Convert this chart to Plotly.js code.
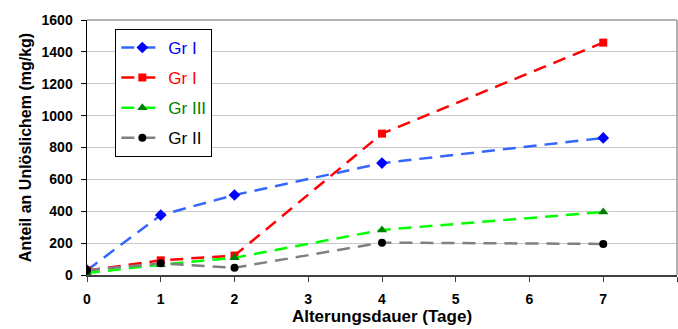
<!DOCTYPE html>
<html><head><meta charset="utf-8">
<script src="https://cdn.plot.ly/plotly-3.0.1.min.js"></script>
<style>html,body{margin:0;padding:0;background:#fff}#c{width:678px;height:329px}</style>
</head><body><div id="c"></div>
<script>
const days = [0, 1, 2, 4, 7];
const grIblue = [30, 376, 502, 702, 860];
const grIred = [28, 92, 122, 887, 1458];
const grIII = [12, 65, 108, 283, 395];
const grII = [30, 73, 46, 203, 195];
const names = ['Gr I', 'Gr I', 'Gr III', 'Gr II'];
const xTicks = [0,1,2,3,4,5,6,7,8];
const yTicks = [0,200,400,600,800,1000,1200,1400,1600];

const F = 'Liberation Sans, Arial, sans-serif';
const dash = '13px,8px';
function tr(y, name, lineColor, markColor, sym, size, textColor, grp){
  return {x: days, y: y, type:'scatter', mode:'lines+markers',
    name: '<span style="color:'+textColor+'">'+name+'</span>', legendgroup: grp,
    line:{color:lineColor, width:2.5, dash:dash},
    marker:{color:markColor, symbol:sym, size:size}};
}
const data = [
  tr(grIblue, names[0], '#3366ff', '#0000ff', 'diamond', 9, '#0000ff', 'a'),
  tr(grIred, names[1], '#ff0000', '#ff0000', 'square', 8, '#ff0000', 'b'),
  tr(grIII, names[2], '#00ff00', '#008000', 'triangle-up', 9, '#008000', 'c'),
  tr(grII, names[3], '#808080', '#000000', 'circle', 8, '#000000', 'd')
];
const layout = {
  width:678, height:329,
  margin:{l:87, r:1, t:20, b:54},
  paper_bgcolor:'#fff', plot_bgcolor:'#fff',
  font:{family:F, size:13, color:'#000'},
  showlegend:true,
  legend:{x:0.048, y:0.965, xanchor:'left', yanchor:'top', bgcolor:'#fff',
    bordercolor:'#000', borderwidth:1, font:{size:17, family:F},
    tracegroupgap:5, itemwidth:42},
  xaxis:{range:[0,8], tickvals:xTicks, ticktext:xTicks.map(v=>'<b>'+v+'</b>'), showgrid:false, zeroline:false,
    showline:true, linecolor:'#404040', linewidth:1.5, ticks:'outside', ticklen:5, tickcolor:'#404040',
    ticklabelstandoff:6,
    tickfont:{size:14, family:F},
    title:{text:'<b>Alterungsdauer (Tage)</b>', font:{size:17}, standoff:3}},
  yaxis:{range:[0,1600], tickvals:yTicks, ticktext:yTicks.map(v=>'<b>'+v+'</b>'), showgrid:true, gridcolor:'#c8c8c8', gridwidth:1,
    zeroline:false, showline:true, linecolor:'#000', linewidth:1.5, ticks:'outside', ticklen:5, tickcolor:'#000',
    ticklabelstandoff:5,
    tickfont:{size:14, family:F},
    title:{text:'<b>Anteil an Unlöslichem (mg/kg)</b>', font:{size:16}, standoff:6}},
  shapes:[
    {type:'line', xref:'paper', yref:'paper', x0:0, x1:1, y0:1, y1:1, line:{color:'#999', width:1.5}},
    {type:'line', xref:'paper', yref:'paper', x0:1, x1:1, y0:0, y1:1, line:{color:'#999', width:1.5}}
  ]
};
Plotly.newPlot('c', data, layout, {displayModeBar:false, staticPlot:true});
</script></body></html>
